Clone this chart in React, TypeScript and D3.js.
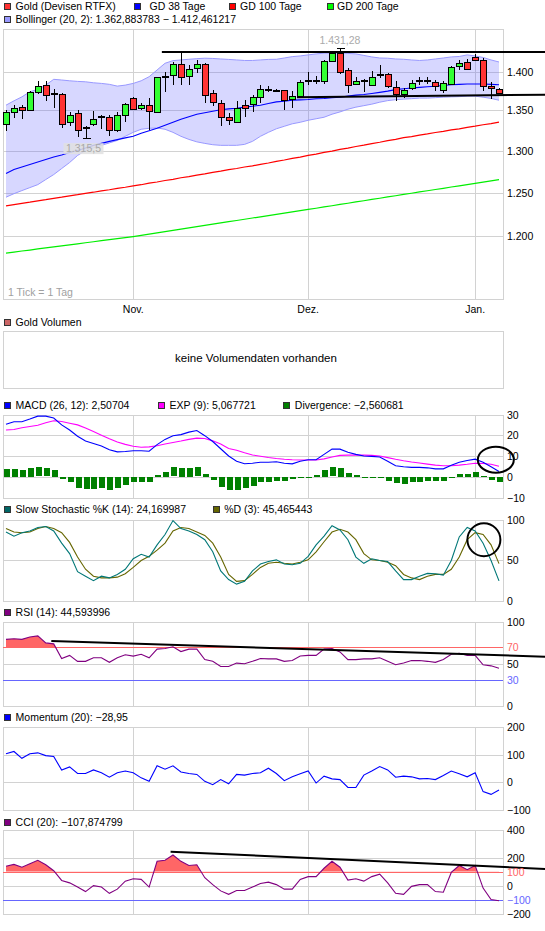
import React from 'react';
import * as d3 from 'd3';

// ---------- DATA ----------
const openP = [1332.7,1348.3,1354.8,1350.0,1373.0,1382.1,1370.8,1370.8,1335.3,1347.0,1327.5,1332.7,1341.3,1341.3,1325.3,1344.4,1365.2,1353.5,1357.4,1348.3,1392.9,1395.9,1409.8,1394.2,1404.6,1409.4,1371.7,1360.0,1341.8,1335.3,1356.5,1358.7,1366.5,1376.4,1375.1,1375.6,1363.9,1367.8,1388.1,1387.3,1387.3,1414.1,1424.1,1402.0,1383.8,1387.3,1382.9,1395.9,1396.8,1379.5,1370.8,1378.6,1387.3,1387.3,1386.4,1376.4,1383.8,1407.2,1412.0,1418.5,1415.0,1380.8,1377.3];
const highP = [1350.4,1356.9,1356.9,1375.1,1387.3,1387.3,1377.7,1372.0,1347.4,1350.4,1330.1,1349.6,1344.8,1343.9,1348.3,1360.0,1367.3,1360.0,1365.6,1393.3,1399.0,1412.0,1424.1,1408.9,1415.4,1411.1,1376.4,1363.4,1346.1,1361.3,1363.4,1369.9,1382.9,1381.6,1376.9,1376.4,1374.3,1389.4,1399.0,1393.8,1415.4,1427.1,1431.28,1404.6,1392.5,1390.7,1400.3,1408.0,1398.1,1387.3,1378.6,1389.4,1392.5,1392.5,1389.4,1388.1,1406.8,1415.0,1415.9,1423.7,1417.6,1386.4,1378.6];
const lowP = [1324.4,1340.5,1339.6,1349.1,1370.8,1362.1,1352.6,1328.3,1330.1,1316.6,1315.5,1331.0,1326.6,1317.9,1323.1,1335.3,1350.0,1350.4,1325.7,1347.4,1373.4,1382.9,1382.9,1382.9,1398.1,1359.1,1356.1,1330.1,1331.8,1334.4,1341.8,1348.3,1359.1,1373.0,1373.4,1350.4,1353.5,1365.6,1382.9,1383.8,1383.8,1413.3,1396.8,1372.1,1382.1,1373.0,1380.8,1391.6,1378.6,1361.3,1365.6,1376.4,1382.9,1383.8,1374.3,1372.1,1382.9,1402.4,1402.4,1413.3,1375.1,1364.7,1370.8];
const closeP = [1347.4,1353.5,1350.9,1373.4,1380.8,1369.1,1370.6,1332.7,1343.9,1325.3,1327.3,1338.7,1341.5,1325.3,1343.9,1358.7,1352.2,1356.9,1349.6,1392.5,1393.1,1409.8,1392.5,1402.9,1409.4,1369.1,1360.4,1341.8,1337.9,1353.5,1353.5,1366.5,1377.7,1376.6,1375.3,1363.4,1367.8,1386.0,1388.3,1387.5,1413.3,1424.1,1399.0,1382.1,1388.1,1387.5,1393.3,1396.1,1380.8,1370.8,1375.6,1384.7,1387.5,1387.1,1381.6,1384.7,1405.5,1411.5,1403.7,1415.0,1380.8,1378.6,1372.1];

const gd38 = [1272.7,1277.4,1280.4,1283.4,1286.4,1289.5,1292.5,1294.9,1298.0,1300.4,1303.5,1306.6,1309.0,1311.5,1313.6,1315.8,1317.7,1321.4,1324.5,1327.6,1331.3,1335.1,1338.9,1342.0,1345.2,1347.1,1349.0,1350.9,1351.9,1352.8,1354.1,1355.3,1356.6,1358.8,1360.8,1361.7,1363.0,1363.4,1363.9,1364.7,1365.2,1366.0,1366.8,1368.1,1369.4,1370.3,1371.6,1373.0,1374.6,1376.5,1377.6,1378.5,1379.4,1380.1,1380.8,1381.7,1382.7,1383.3,1383.7,1383.7,1383.7,1383.3,1382.7];
const gd100 = [1234.7,1236.1,1237.7,1239.0,1240.6,1241.9,1243.5,1244.8,1246.4,1247.7,1249.3,1250.6,1252.2,1253.5,1255.1,1256.4,1258.0,1259.4,1261.2,1262.6,1264.4,1265.8,1267.6,1269.0,1270.8,1272.2,1274.0,1275.4,1277.2,1278.6,1280.4,1281.8,1283.6,1285.2,1287.2,1288.8,1290.8,1292.4,1294.4,1296.0,1298.0,1299.6,1301.6,1303.2,1305.2,1306.8,1308.8,1310.4,1312.4,1314.0,1316.0,1317.4,1319.2,1320.6,1322.4,1323.8,1325.6,1327.0,1328.8,1330.2,1332.0,1333.4,1335.3];
const gd200 = [1181.4,1182.5,1183.7,1184.8,1186.0,1187.1,1188.3,1189.4,1190.6,1191.7,1192.9,1194.0,1195.2,1196.3,1197.5,1198.6,1199.8,1201.2,1202.6,1204.0,1205.4,1206.8,1208.2,1209.6,1211.0,1212.4,1213.8,1215.2,1216.6,1218.0,1219.4,1220.8,1222.2,1223.6,1225.0,1226.4,1227.8,1229.2,1230.6,1232.0,1233.5,1234.9,1236.4,1237.8,1239.3,1240.7,1242.2,1243.6,1245.1,1246.5,1248.0,1249.4,1250.9,1252.3,1253.8,1255.2,1256.7,1258.1,1259.6,1261.0,1262.5,1263.9,1265.3];
const bollUpper = [1356.6,1362.1,1367.2,1373.7,1376.8,1382.3,1389.8,1388.9,1387.9,1387.1,1386.6,1385.3,1384.5,1383.3,1381.0,1382.3,1384.5,1387.9,1393.2,1402.0,1410.8,1414.3,1415.2,1416.1,1416.9,1417.5,1417.2,1416.5,1415.9,1415.2,1414.5,1414.5,1415.2,1415.9,1416.1,1417.8,1419.6,1420.5,1421.9,1423.2,1424.2,1424.2,1424.2,1423.9,1423.2,1421.2,1419.2,1417.8,1417.5,1416.5,1416.1,1415.2,1414.5,1415.2,1416.5,1417.8,1419.2,1419.8,1421.9,1420.5,1418.5,1415.2,1412.5];
const bollLower = [1244.8,1248.9,1252.5,1256.0,1259.5,1265.5,1271.4,1278.6,1285.8,1294.3,1300.4,1303.5,1306.6,1309.6,1312.7,1317.7,1322.6,1326.4,1327.6,1328.0,1326.4,1322.6,1317.7,1313.9,1310.9,1309.0,1307.4,1306.6,1306.6,1306.6,1307.8,1311.5,1317.7,1322.6,1327.0,1330.1,1333.2,1335.1,1337.6,1339.5,1341.4,1345.2,1348.1,1351.5,1354.1,1356.0,1357.9,1360.4,1362.4,1363.6,1364.3,1364.9,1365.6,1365.6,1366.2,1366.8,1367.2,1367.5,1368.1,1368.1,1366.8,1365.2,1362.9];

const macdLine = [25.3,26.5,26.5,27.8,29.2,29.2,28.3,25.0,22.5,19.5,17.2,16.0,14.8,13.0,12.0,12.2,12.5,12.5,12.3,15.5,18.0,19.8,20.3,21.5,22.3,19.8,17.0,13.5,10.0,7.5,6.3,6.5,7.0,7.0,7.2,6.5,6.2,7.5,8.2,8.2,10.8,13.3,13.3,11.8,10.8,10.0,9.8,9.5,7.5,5.3,4.8,4.5,4.5,4.3,3.8,3.8,5.5,7.0,7.8,8.5,7.0,4.8,2.5];
const macdSignal = [22.5,22.8,23.6,24.2,24.8,26.0,27.0,26.6,25.8,25.0,23.5,21.8,20.0,18.3,16.7,15.6,14.7,14.2,14.4,14.9,15.8,16.5,17.2,18.0,18.6,18.4,17.3,15.8,13.6,12.8,11.6,10.5,9.9,9.3,8.8,8.4,8.2,8.1,8.1,8.1,8.6,9.5,10.3,10.4,10.4,10.4,10.3,10.0,9.2,8.4,7.7,7.1,6.6,6.1,5.6,5.3,5.3,5.6,6.0,6.5,6.4,6.0,5.1];
const macdDiv = [3.7,3.7,3.2,4.2,4.5,4.0,3.2,-0.8,-2.2,-5.2,-5.8,-5.8,-5.2,-6.3,-5.2,-3.8,-2.5,-2.5,-2.5,0.8,2.5,4.5,4.2,4.2,4.5,1.5,-1.3,-4.7,-6.3,-6.3,-5.2,-4.2,-2.2,-2.2,-1.8,-1.8,-1.2,-0.2,0.0,0.8,3.2,4.5,4.2,2.0,0.8,-0.5,-0.5,-0.5,-1.7,-3.0,-3.3,-2.5,-2.2,-1.8,-1.8,-1.8,-0.5,1.5,1.5,2.5,0.4,-1.3,-2.56];

const stochK = [84.5,79.4,83.7,85.8,90.1,91.4,85.8,70.8,57.9,35.6,30.0,24.5,30.0,27.9,32.2,38.6,51.5,57.1,53.6,68.7,81.5,98.7,88.8,85.8,81.5,75.1,60.1,36.5,25.8,20.2,23.6,36.5,45.1,48.1,50.2,45.1,44.2,45.9,54.5,68.7,79.4,92.3,87.1,75.1,53.6,45.9,51.5,49.4,48.1,36.5,25.8,25.8,30.0,33.5,33.0,31.3,49.4,78.5,90.1,85.8,70.8,49.4,24.2];
const stochD = [88.8,84.5,83.7,84.5,88.8,91.4,88.8,83.7,71.7,53.6,38.6,30.0,27.9,27.9,28.8,33.0,40.8,49.4,54.5,62.2,70.8,85.8,90.1,88.8,84.5,80.3,70.8,53.6,32.2,23.6,24.5,32.2,40.8,45.9,47.2,45.9,45.1,47.2,50.2,60.1,72.5,84.5,88.0,84.5,75.1,57.9,50.2,49.4,47.2,42.9,32.2,27.9,25.8,30.0,32.2,32.2,38.6,53.6,75.1,83.7,81.5,68.7,45.5];
const rsi14 = [79.2,80.0,79.2,82.1,83.3,75.0,73.8,56.3,60.0,52.9,52.9,57.1,57.1,51.7,57.1,60.8,59.2,61.3,57.1,67.5,68.3,70.4,64.6,67.5,67.5,55.0,52.9,46.7,46.7,50.8,50.0,52.9,56.3,55.8,55.8,52.9,53.8,59.2,60.0,60.0,67.5,68.3,64.2,55.0,55.0,55.8,55.8,57.1,52.9,48.8,50.8,53.8,53.8,52.9,51.7,55.0,61.3,62.5,60.0,60.0,48.8,47.5,44.6];
const momentum20 = [102.5,111,86,102.5,106,96,92.5,43.8,55,31,31,43.8,33.8,17.5,33.8,40,33.8,15,2.5,58.8,46.3,58.8,36.3,31,27.5,2.5,-10,8.8,-6.3,27.5,25,31,33.8,50,31,5,18.8,30,40,-3.8,21.3,11.3,8.8,-20,-20,25,40,56.3,43.8,17.5,21.3,18.8,11.3,12.5,8.8,23.8,40,30,18.8,33.8,-35,-45,-28.95];
const cci20 = [140,152.5,132.5,157.5,182.5,150,107.5,37.5,20,-10,-42.5,0,-10,-55,-25,32.5,50,45,-10,175,182.5,220,175,145,150,57.5,7.5,-37.5,-62.5,-35,-35,-10,15,25,7.5,-25,-25,45,65,65,125,175,132.5,40,50,32.5,65,82.5,20,-55,-62.5,-5,7.5,7.5,-42.5,-47.5,95,145,115,145,-17.5,-100,-107.9];

const monthTicks = [{ index: 16, label: 'Nov.' }, { index: 38, label: 'Dez.' }, { index: 59, label: 'Jan.' }];
const priceTicks = [1200, 1250, 1300, 1350, 1400];
const macdTicks = [30, 20, 10, 0, -10];
const stochTicks = [100, 50, 0];
const rsiTicks = [100, 70, 50, 30, 0];
const momTicks = [200, 100, 0, -100];
const cciTicks = [400, 200, 100, 0, -100, -200];

// hand-drawn trend lines (index, value)
const trendResist = [{ i: 19.6, v: 1425.9 }, { i: 67.8, v: 1425.9 }];
const trendSupport = [{ i: 36.6, v: 1366.7 }, { i: 67.8, v: 1370.0 }];
const trendRsi = [{ i: 5.7, v: 77.2 }, { i: 67.8, v: 58.4 }];
const trendCci = [{ i: 20.7, v: 244.6 }, { i: 67.8, v: 120.1 }];

// ---------- RENDER ----------
const PL = 3, PR = 503;
const FONT = '"Liberation Sans", Arial, sans-serif';
const LFS = 10.5;
const GRID = '#d2d2d2';
const de = d3.formatLocale({ decimal: ',', thousands: '.', grouping: [3], currency: ['', ''] });
const fmtPrice = de.format(',');
const fmtNum = de.format('');
const px = (v: number) => Math.round(v) + 0.5;

type Sc = (v: number) => number;

const xScale = d3.scaleLinear().domain([0, closeP.length - 1]).range([6, 499]);

function Frame({ top, bottom, hl }: { top: number; bottom: number; hl: number[] }) {
  const x = xScale;
  return (
    <g shapeRendering="crispEdges">
      {hl.map((yy, k) => (
        <line key={'h' + k} x1={PL} x2={PR} y1={px(yy)} y2={px(yy)} stroke={GRID} />
      ))}
      {monthTicks.map((m) => (
        <line key={m.label} x1={px(x(m.index))} x2={px(x(m.index))} y1={top} y2={bottom} stroke={GRID} />
      ))}
      <rect x={PL + 0.5} y={px(top)} width={PR - PL} height={Math.round(bottom) - Math.round(top)} fill="none" stroke={GRID} />
    </g>
  );
}

function Labels({ ticks, sc, fmt, colors }: { ticks: number[]; sc: Sc; fmt: (v: number) => string; colors?: Record<number, string> }) {
  return (
    <g>
      {ticks.map((t) => (
        <text key={t} x={507} y={sc(t) + 4} fontSize={10.5} fontFamily={FONT} fill={(colors && colors[t]) || '#000'}>
          {fmt(t)}
        </text>
      ))}
    </g>
  );
}

function Legend({ y, items }: { y: number; items: { x: number; tx: number; color: string; text: string }[] }) {
  return (
    <g>
      {items.map((it, k) => (
        <g key={k}>
          <rect x={it.x + 0.5} y={Math.round(y - 3.5) + 0.5} width={6} height={6} fill={it.color} stroke="#333" shapeRendering="crispEdges" />
          <text x={it.tx} y={y + 3.8} fontSize={LFS} fontFamily={FONT} fill="#000">{it.text}</text>
        </g>
      ))}
    </g>
  );
}

export default function App() {
  const x = xScale;
  const yP = d3.scaleLog().domain([1200, 1400]).range([236.4, 71.5]);
  const yM = d3.scaleLinear().domain([-10, 30]).range([497.5, 414.5]);
  const yS = d3.scaleLinear().domain([0, 100]).range([600.5, 519.5]);
  const yR = d3.scaleLinear().domain([0, 100]).range([705.5, 622]);
  const yMo = d3.scaleLinear().domain([-100, 200]).range([809.5, 727]);
  const yC = d3.scaleLinear().domain([-200, 400]).range([913.5, 830]);

  const line = (sc: Sc) => d3.line<number>().x((_, i) => x(i)).y((d) => sc(d));
  const trend = (pts: { i: number; v: number }[], sc: Sc) =>
    d3.line<{ i: number; v: number }>().x((d) => x(d.i)).y((d) => sc(d.v))(pts) || '';

  const band = d3.area<number>().x((_, i) => x(i)).y0((_, i) => yP(bollLower[i])).y1((d) => yP(d));
  const rsiArea = d3.area<number>().x((_, i) => x(i)).y0(yR(70)).y1((d) => yR(d));
  const cciArea = d3.area<number>().x((_, i) => x(i)).y0(yC(100)).y1((d) => yC(d));

  const hiIdx = d3.maxIndex(highP);
  const loIdx = d3.minIndex(lowP);

  return (
    <div style={{ position: 'absolute', left: 0, top: 0, width: 545, height: 931, background: '#fff' }}>
      <svg width={545} height={931} viewBox="0 0 545 931" style={{ display: 'block' }}>
        <defs>
          <clipPath id="mainClip"><rect x={PL} y={29} width={PR - PL} height={270} /></clipPath>
          <clipPath id="rsiClip"><rect x={PL} y={622} width={PR - PL} height={yR(70) - 622} /></clipPath>
          <clipPath id="cciClip"><rect x={PL} y={830} width={PR - PL} height={yC(100) - 830} /></clipPath>
        </defs>
        <rect width={545} height={931} fill="#fff" />

        {/* ---- Main price panel ---- */}
        <Legend y={6.6} items={[
          { x: 4, tx: 15.6, color: '#ff3333', text: 'Gold (Devisen RTFX)' },
          { x: 134, tx: 149.5, color: '#0000ff', text: 'GD 38 Tage' },
          { x: 229, tx: 240, color: '#ff0000', text: 'GD 100 Tage' },
          { x: 327, tx: 337, color: '#00ff00', text: 'GD 200 Tage' },
        ]} />
        <Legend y={19.6} items={[
          { x: 4, tx: 15.6, color: '#9999ff', text: 'Bollinger (20, 2): 1.362,883783 \u2212 1.412,461217' },
        ]} />
        <Frame top={29} bottom={299} hl={priceTicks.map((t) => yP(t))} />
        <g clipPath="url(#mainClip)">
          <path d={band(bollUpper) || ''} fill="rgba(102,102,255,0.26)" />
          <path d={line(yP)(bollUpper) || ''} fill="none" stroke="#9999ff" />
          <path d={line(yP)(bollLower) || ''} fill="none" stroke="#9999ff" />
          <path d={line(yP)(gd200) || ''} fill="none" stroke="#00ee00" strokeWidth={1.2} />
          <path d={line(yP)(gd100) || ''} fill="none" stroke="#ff0000" strokeWidth={1.2} />
          <path d={line(yP)(gd38) || ''} fill="none" stroke="#0000ff" strokeWidth={1.1} />
          {closeP.map((c, i) => {
            const o = openP[i];
            const cx = px(x(i));
            const yo = yP(o), yc = yP(c);
            const top = Math.min(yo, yc), bot = Math.max(yo, yc);
            const doji = bot - top < 1.6;
            return (
              <g key={i} shapeRendering="crispEdges">
                <line x1={cx} x2={cx} y1={Math.round(yP(highP[i]))} y2={Math.round(yP(lowP[i]))} stroke="#000" />
                {doji ? (
                  <rect x={cx - 3.5} y={Math.round((top + bot) / 2) - 1} width={7} height={2} fill="#000" />
                ) : (
                  <rect x={cx - 3} y={px(top)} width={6} height={Math.max(1, Math.round(bot) - Math.round(top))}
                    fill={c > o ? '#33ff33' : '#ff3333'} stroke="#000" />
                )}
              </g>
            );
          })}
          <line x1={px(x(hiIdx)) - 4} x2={px(x(hiIdx)) + 4} y1={px(yP(highP[hiIdx]))} y2={px(yP(highP[hiIdx]))} stroke="#000" shapeRendering="crispEdges" />
          <line x1={px(x(loIdx)) - 4} x2={px(x(loIdx)) + 4} y1={px(yP(lowP[loIdx]))} y2={px(yP(lowP[loIdx]))} stroke="#000" shapeRendering="crispEdges" />
        </g>
        <text x={x(hiIdx)} y={yP(highP[hiIdx]) - 4} textAnchor="middle" fontSize={10.5} fontFamily={FONT} fill="#aaaaaa">
          {de.format(',.2f')(highP[hiIdx])}
        </text>
        <rect x={x(loIdx) - 22} y={yP(lowP[loIdx]) + 5} width={40} height={11} fill="rgba(225,225,225,0.85)" />
        <text x={x(loIdx) - 2} y={yP(lowP[loIdx]) + 14} textAnchor="middle" fontSize={10.5} fontFamily={FONT} fill="#a8a8a8">
          {de.format(',.1f')(lowP[loIdx])}
        </text>
        <path d={trend(trendResist, yP)} stroke="#000" strokeWidth={2} fill="none" />
        <path d={trend(trendSupport, yP)} stroke="#000" strokeWidth={2} fill="none" />
        <text x={8} y={296} fontSize={10.5} fontFamily={FONT} fill="#a0a0a0">1 Tick = 1 Tag</text>
        <Labels ticks={priceTicks} sc={yP} fmt={fmtPrice} />
        {monthTicks.map((m) => (
          <text key={m.label} x={x(m.index)} y={313} textAnchor="middle" fontSize={10.5} fontFamily={FONT}>{m.label}</text>
        ))}

        {/* ---- Volume panel ---- */}
        <Legend y={322} items={[{ x: 4, tx: 15.6, color: '#cc6666', text: 'Gold Volumen' }]} />
        <rect x={PL + 0.5} y={331.5} width={PR - PL} height={57} fill="none" stroke={GRID} shapeRendering="crispEdges" />
        <text x={256} y={362} textAnchor="middle" fontSize={11.5} fontFamily={FONT}>keine Volumendaten vorhanden</text>

        {/* ---- MACD ---- */}
        <Legend y={405.4} items={[
          { x: 4, tx: 15.6, color: '#0000ff', text: 'MACD (26, 12): 2,50704' },
          { x: 158, tx: 169.6, color: '#ff00ff', text: 'EXP (9): 5,067721' },
          { x: 283, tx: 294.8, color: '#008000', text: 'Divergence: \u22122,560681' },
        ]} />
        <Frame top={414.5} bottom={497.5} hl={[20, 10, 0].map((t) => yM(t))} />
        <g shapeRendering="crispEdges">
          {macdDiv.map((d, i) => {
            const y0 = yM(0), y1 = yM(d);
            return <rect key={i} x={Math.round(x(i)) - 2.5} y={Math.round(Math.min(y0, y1))} width={6}
              height={Math.max(1, Math.round(Math.abs(y1 - y0)))} fill="#008000" />;
          })}
        </g>
        <path d={line(yM)(macdSignal) || ''} fill="none" stroke="#ff00ff" strokeWidth={1.1} />
        <path d={line(yM)(macdLine) || ''} fill="none" stroke="#0000ff" strokeWidth={1.1} />
        <ellipse cx={x(61.6)} cy={yM(8.2)} rx={18} ry={13} fill="none" stroke="#000" strokeWidth={2} />
        <Labels ticks={macdTicks} sc={yM} fmt={fmtNum} />

        {/* ---- Stochastic ---- */}
        <Legend y={509} items={[
          { x: 4, tx: 15.6, color: '#006666', text: 'Slow Stochastic %K (14): 24,169987' },
          { x: 212.7, tx: 224.2, color: '#666600', text: '%D (3): 45,465443' },
        ]} />
        <Frame top={519.5} bottom={600.5} hl={[yS(50)]} />
        <path d={line(yS)(stochD) || ''} fill="none" stroke="#666600" strokeWidth={1.1} />
        <path d={line(yS)(stochK) || ''} fill="none" stroke="#007777" strokeWidth={1.1} />
        <circle cx={x(60.1)} cy={yS(75)} r={16.5} fill="none" stroke="#000" strokeWidth={2} />
        <Labels ticks={stochTicks} sc={yS} fmt={fmtNum} />

        {/* ---- RSI ---- */}
        <Legend y={612.5} items={[{ x: 4, tx: 15.6, color: '#800080', text: 'RSI (14): 44,593996' }]} />
        <Frame top={622} bottom={705.5} hl={[yR(50)]} />
        <path d={rsiArea(rsi14) || ''} fill="#ff6666" clipPath="url(#rsiClip)" />
        <line x1={PL} x2={PR} y1={px(yR(70))} y2={px(yR(70))} stroke="#ff6666" shapeRendering="crispEdges" />
        <line x1={PL} x2={PR} y1={px(yR(30))} y2={px(yR(30))} stroke="#6666ff" shapeRendering="crispEdges" />
        <path d={line(yR)(rsi14) || ''} fill="none" stroke="#800080" strokeWidth={1.1} />
        <path d={trend(trendRsi, yR)} stroke="#000" strokeWidth={2} fill="none" />
        <Labels ticks={rsiTicks} sc={yR} fmt={fmtNum} colors={{ 70: '#ff6666', 30: '#6666ff' }} />

        {/* ---- Momentum ---- */}
        <Legend y={717} items={[{ x: 4, tx: 15.6, color: '#0000ff', text: 'Momentum (20): \u221228,95' }]} />
        <Frame top={727} bottom={809.5} hl={[yMo(100), yMo(0)]} />
        <path d={line(yMo)(momentum20) || ''} fill="none" stroke="#0000ff" strokeWidth={1.1} />
        <Labels ticks={momTicks} sc={yMo} fmt={fmtNum} />

        {/* ---- CCI ---- */}
        <Legend y={822.2} items={[{ x: 4, tx: 15.6, color: '#800080', text: 'CCI (20): \u2212107,874799' }]} />
        <Frame top={830} bottom={913.5} hl={[yC(200), yC(0)]} />
        <path d={cciArea(cci20) || ''} fill="#ff6666" clipPath="url(#cciClip)" />
        <line x1={PL} x2={PR} y1={px(yC(100))} y2={px(yC(100))} stroke="#ff6666" shapeRendering="crispEdges" />
        <line x1={PL} x2={PR} y1={px(yC(-100))} y2={px(yC(-100))} stroke="#6666ff" shapeRendering="crispEdges" />
        <path d={line(yC)(cci20) || ''} fill="none" stroke="#800080" strokeWidth={1.1} />
        <path d={trend(trendCci, yC)} stroke="#000" strokeWidth={2} fill="none" />
        <Labels ticks={cciTicks} sc={yC} fmt={fmtNum} colors={{ 100: '#ff6666', [-100]: '#6666ff' }} />
      </svg>
    </div>
  );
}
